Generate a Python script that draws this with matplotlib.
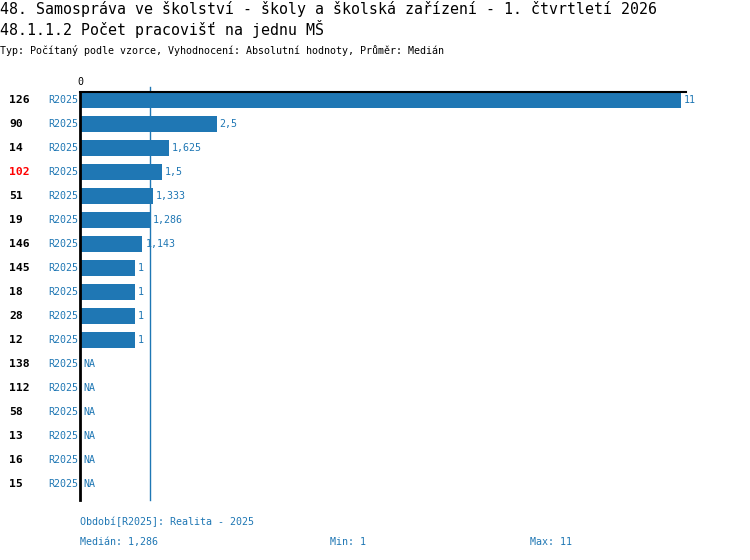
import numpy as np
import matplotlib
matplotlib.use("Agg")
import matplotlib.pyplot as plt

# data
ids = ["126", "90", "14", "102", "51", "19", "146", "145", "18", "28", "12",
       "138", "112", "58", "13", "16", "15"]
period = "R2025"
values = [11, 2.5, 1.625, 1.5, 1.333, 1.286, 1.143, 1, 1, 1, 1,
          None, None, None, None, None, None]
highlight = "102"

title1 = "48. Samospráva ve školství - školy a školská zařízení - 1. čtvrtletí 2026"
title2 = "48.1.1.2 Počet pracovišť na jednu MŠ"
subtitle = "Typ: Počítaný podle vzorce, Vyhodnocení: Absolutní hodnoty, Průměr: Medián"
legend_period = "Období[R2025]: Realita - 2025"

blue = "#1f77b4"
mono = "DejaVu Sans Mono"
W, H = 750, 560

def fmt(v):
  return f"{v:g}".replace(".", ",")

known = [v for v in values if v is not None]
median = np.median(known)
vmin, vmax = min(known), max(known)

fig = plt.figure(figsize=(W / 100, H / 100), dpi=100)

# axes placed in pixel coordinates: x 80..686, y 92..500
ax_l, ax_r, ax_t, ax_b = 80, 686, 92, 500
ax = fig.add_axes([ax_l / W, 1 - ax_b / H, (ax_r - ax_l) / W, (ax_b - ax_t) / H])
px_per_unit = (681 - 80) / vmax
ax.set_xlim(0, (ax_r - ax_l) / px_per_unit)
n = len(ids)
row = 24
ax.set_ylim((ax_b - 100) / row, -(100 - ax_t) / row)

y = np.arange(n)
vals = np.array([v if v is not None else 0 for v in values], dtype=float)
ax.barh(y, vals, height=16 / row, color=blue, zorder=2)

for i, v in enumerate(values):
  if v is None:
    ax.text(0.07, i, "NA", color=blue, fontsize=7.2, family=mono,
            va="center", ha="left")
  else:
    ax.text(v + 3 / px_per_unit, i, fmt(v), color=blue, fontsize=7.2,
            family=mono, va="center", ha="left")

# median line behind the bars, a bit taller than the axes at the top
ax.plot([median, median], [ax.get_ylim()[0], -(100 - 87) / row], color=blue,
        lw=1, clip_on=False, zorder=1)

for s in ["right", "bottom"]:
  ax.spines[s].set_visible(False)
ax.spines["left"].set_linewidth(2)
ax.spines["top"].set_linewidth(1.5)
ax.set_xticks([])
ax.set_yticks([])

# "0" above the axis start
fig.text(80 / W, 1 - 82 / H, "0", fontsize=7.2, family=mono, ha="center", va="center")

# row labels
for i, name in enumerate(ids):
  ypix = 100 + i * row
  fig.text(9 / W, 1 - ypix / H, name, fontsize=8.2, family=mono, weight="bold",
           color="red" if name == highlight else "black", ha="left", va="center")
  fig.text(78 / W, 1 - ypix / H, period, fontsize=7.2, family=mono, color=blue,
           ha="right", va="center")

# titles
fig.text(0, 1 - 9 / H, title1, fontsize=10.75, family=mono, ha="left", va="center")
fig.text(0, 1 - 29 / H, title2, fontsize=10.75, family=mono, ha="left", va="center")
fig.text(0, 1 - 50 / H, subtitle, fontsize=7.2, family=mono, ha="left", va="center")

# footer
fig.text(80 / W, 1 - 522 / H, legend_period, fontsize=7.2, family=mono, color=blue,
         ha="left", va="center")
fig.text(80 / W, 1 - 542 / H, "Medián: " + fmt(round(median, 3)), fontsize=7.2,
         family=mono, color=blue, ha="left", va="center")
fig.text(330 / W, 1 - 542 / H, "Min: " + fmt(vmin), fontsize=7.2, family=mono,
         color=blue, ha="left", va="center")
fig.text(530 / W, 1 - 542 / H, "Max: " + fmt(vmax), fontsize=7.2, family=mono,
         color=blue, ha="left", va="center")

fig.savefig("out.png", dpi=100)
